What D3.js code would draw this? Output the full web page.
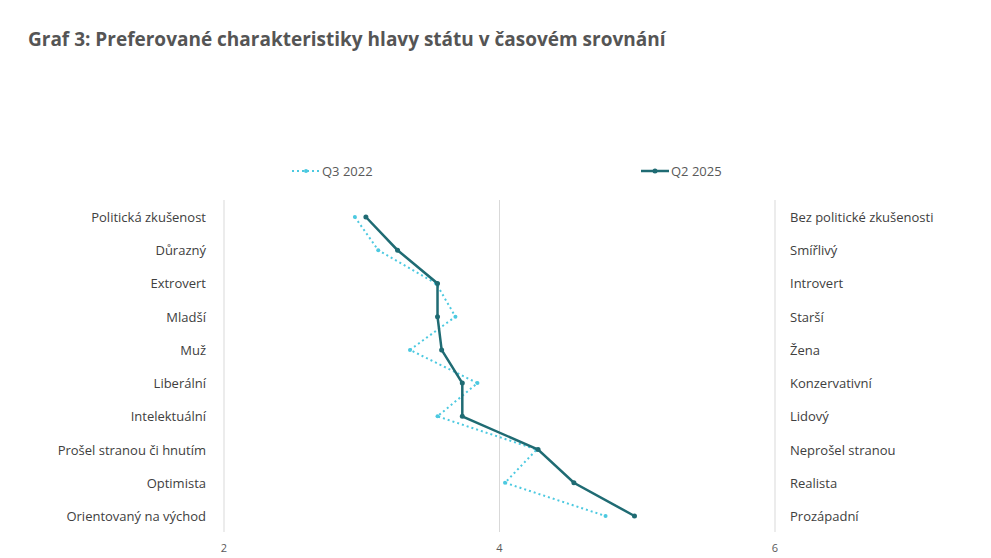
<!DOCTYPE html>
<html><head><meta charset="utf-8">
<script src="https://cdn.jsdelivr.net/npm/d3@7"></script>
<style>body{margin:0;background:#fff;font-family:"Open Sans",sans-serif;}</style>
</head><body><div id="chart"></div>
<script>
const W = 991, H = 558;
const leftLabels = ['Politická zkušenost','Důrazný','Extrovert','Mladší','Muž','Liberální','Intelektuální','Prošel stranou či hnutím','Optimista','Orientovaný na východ'];
const rightLabels = ['Bez politické zkušenosti','Smířlivý','Introvert','Starší','Žena','Konzervativní','Lidový','Neprošel stranou','Realista','Prozápadní'];
const q3_2022 = [2.95,3.12,3.54,3.68,3.35,3.84,3.55,4.27,4.04,4.77];
const q2_2025 = [3.03,3.26,3.55,3.55,3.58,3.73,3.73,4.28,4.54,4.98];
const xTicks = [2,4,6];

const svg = d3.select('#chart').append('svg').attr('width', W).attr('height', H);

svg.append('text').attr('x', 28).attr('y', 46)
  .attr('font-size', 19).attr('font-weight', 700).attr('fill', '#555')
  .text('Graf 3: Preferované charakteristiky hlavy státu v časovém srovnání');

const x = d3.scaleLinear().domain([2, 6]).range([224, 775]);
const y = d3.scalePoint().domain(d3.range(10)).range([217, 516]);

// gridlines
svg.selectAll('.grid').data(xTicks).enter().append('line')
  .attr('x1', d => x(d)).attr('x2', d => x(d))
  .attr('y1', 200).attr('y2', 532)
  .attr('stroke', '#d9d9d9').attr('stroke-width', 1);

svg.selectAll('.tick').data(xTicks).enter().append('text')
  .attr('x', d => x(d)).attr('y', 552).attr('text-anchor', 'middle')
  .attr('font-size', 11).attr('fill', '#595959').text(d => d);

svg.selectAll('.ll').data(leftLabels).enter().append('text')
  .attr('x', 206).attr('y', (d, i) => y(i) + 5).attr('text-anchor', 'end')
  .attr('font-size', 13).attr('fill', '#404040').text(d => d);

svg.selectAll('.rl').data(rightLabels).enter().append('text')
  .attr('x', 790).attr('y', (d, i) => y(i) + 5)
  .attr('font-size', 13).attr('fill', '#404040').text(d => d);

const line = d3.line().x(d => x(d)).y((d, i) => y(i));

const series = [
  { name: 'Q3 2022', values: q3_2022, color: '#4cc9e0', width: 2, dash: '2,3', r: 2, lx: 292 },
  { name: 'Q2 2025', values: q2_2025, color: '#1f6b73', width: 2.5, dash: null, r: 2.5, lx: 641 }
];

series.forEach(s => {
  svg.append('path').datum(s.values).attr('d', line)
    .attr('fill', 'none').attr('stroke', s.color).attr('stroke-width', s.width)
    .attr('stroke-dasharray', s.dash);
  svg.selectAll(null).data(s.values).enter().append('circle')
    .attr('cx', d => x(d)).attr('cy', (d, i) => y(i)).attr('r', s.r).attr('fill', s.color);
  // legend
  svg.append('line').attr('x1', s.lx).attr('x2', s.lx + 28).attr('y1', 171).attr('y2', 171)
    .attr('stroke', s.color).attr('stroke-width', s.width).attr('stroke-dasharray', s.dash);
  svg.append('circle').attr('cx', s.lx + 14).attr('cy', 171).attr('r', s.r).attr('fill', s.color);
  svg.append('text').attr('x', s.lx + 30).attr('y', 176)
    .attr('font-size', 13).attr('fill', '#595959').text(s.name);
});
</script></body></html>
